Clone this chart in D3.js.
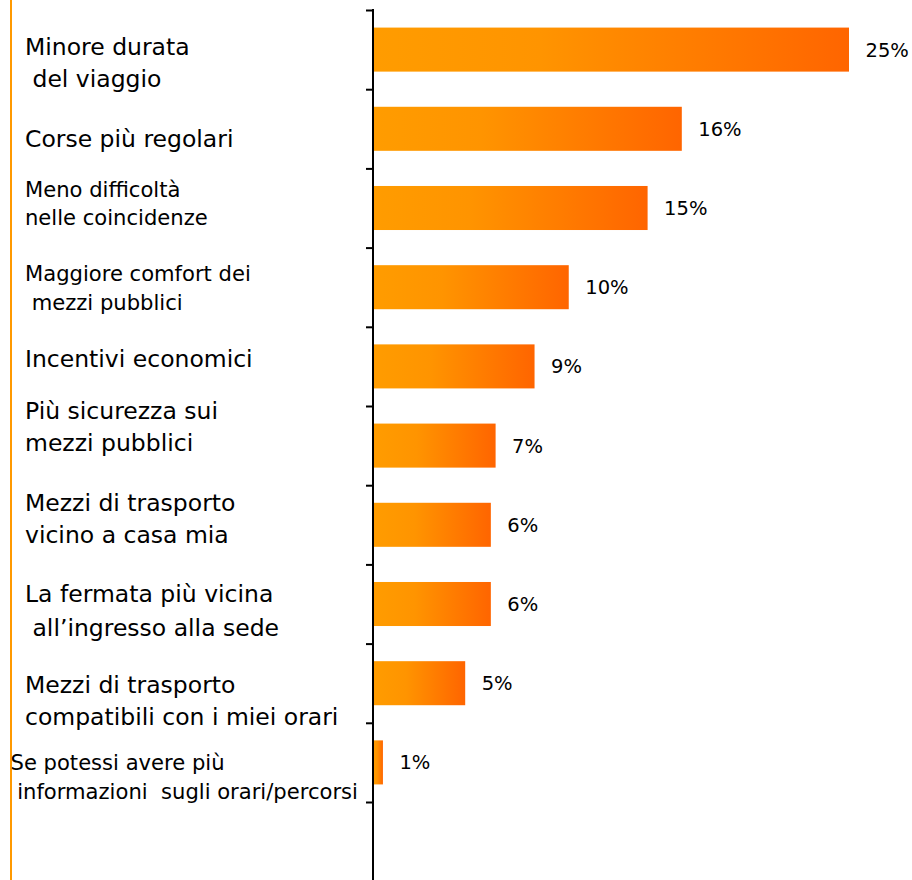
<!DOCTYPE html>
<html>
<head>
<meta charset="utf-8">
<script src="https://cdn.jsdelivr.net/npm/d3@7"></script>
<style>
  html, body { margin: 0; padding: 0; background: #ffffff; }
  svg { display: block; }
  text { font-family: "DejaVu Sans", Verdana, sans-serif; white-space: pre; }
</style>
</head>
<body>
<svg id="chart" width="912" height="880"></svg>
<script>
// ---- data ----
const categories = [
  "Minore durata del viaggio",
  "Corse più regolari",
  "Meno difficoltà nelle coincidenze",
  "Maggiore comfort dei mezzi pubblici",
  "Incentivi economici",
  "Più sicurezza sui mezzi pubblici",
  "Mezzi di trasporto vicino a casa mia",
  "La fermata più vicina all’ingresso alla sede",
  "Mezzi di trasporto compatibili con i miei orari",
  "Se potessi avere più informazioni sugli orari/percorsi"
];
const categoryLines = [
  ["Minore durata", " del viaggio"],
  ["Corse più regolari"],
  ["Meno difficoltà", "nelle coincidenze"],
  ["Maggiore comfort dei", " mezzi pubblici"],
  ["Incentivi economici"],
  ["Più sicurezza sui", "mezzi pubblici"],
  ["Mezzi di trasporto", "vicino a casa mia"],
  ["La fermata più vicina", " all’ingresso alla sede"],
  ["Mezzi di trasporto", "compatibili con i miei orari"],
  ["Se potessi avere più", " informazioni  sugli orari/percorsi"]
];
// bar lengths (percent)
const values = [25, 16.2, 14.4, 10.25, 8.45, 6.4, 6.15, 6.15, 4.8, 0.47];
// value labels as printed
const valueLabels = ["25%", "16%", "15%", "10%", "9%", "7%", "6%", "6%", "5%", "1%"];

// ---- layout (not data) ----
const W = 912, H = 880;
const axisX = 373;
const labelLayout = [ // x, font size, baseline offsets from band centre
  {x: 25,   fs: 23.5, dy: [5.4, 37.7]},
  {x: 25,   fs: 23.5, dy: [17.9]},
  {x: 25,   fs: 21.1, dy: [-11.3, 17]},
  {x: 25,   fs: 21.1, dy: [-6.2, 22.8]},
  {x: 25,   fs: 23.5, dy: [0.3]},
  {x: 25,   fs: 23.5, dy: [-26.3, 5.4]},
  {x: 25,   fs: 23.5, dy: [-13.8, 18.2]},
  {x: 25,   fs: 23.5, dy: [-2, 32]},
  {x: 25,   fs: 23.5, dy: [10.1, 41.8]},
  {x: 10.5, fs: 21.1, dy: [7.6, 36.9]}
];

const svg = d3.select("#chart");
svg.append("rect").attr("width", W).attr("height", H).attr("fill", "#ffffff");

const defs = svg.append("defs");
const grad = defs.append("linearGradient").attr("id", "barGrad")
  .attr("x1", "0%").attr("x2", "100%").attr("y1", "0%").attr("y2", "0%");
grad.append("stop").attr("offset", "0%").attr("stop-color", "#ff9c00");
grad.append("stop").attr("offset", "35%").attr("stop-color", "#ff9400");
grad.append("stop").attr("offset", "100%").attr("stop-color", "#ff6500");

const y = d3.scaleBand().domain(categories).range([10, 802])
  .paddingInner(0.444).paddingOuter(0.222);
const x = d3.scaleLinear().domain([0, 25]).range([axisX + 1, axisX + 1 + 475]);

// left orange rule
svg.append("line").attr("x1", 11).attr("x2", 11).attr("y1", 0).attr("y2", H)
  .attr("stroke", "#ff9900").attr("stroke-width", 2);

// bars
svg.append("g").selectAll("rect").data(values).join("rect")
  .attr("x", x(0))
  .attr("y", (d, i) => y(categories[i]))
  .attr("width", d => x(d) - x(0))
  .attr("height", y.bandwidth())
  .attr("fill", "url(#barGrad)");

// value labels
svg.append("g").selectAll("text").data(values).join("text")
  .attr("x", d => x(d) + 16.5)
  .attr("y", (d, i) => y(categories[i]) + y.bandwidth() / 2 + 7)
  .attr("font-size", 19.5)
  .attr("fill", "#000")
  .text((d, i) => valueLabels[i]);

// axis with ticks at band boundaries
const tickScale = d3.scaleLinear().domain([0, categories.length]).range([10, 802]);
const axis = d3.axisLeft(tickScale).tickValues(d3.range(0, categories.length + 1))
  .tickSize(7).tickSizeOuter(0).tickFormat("");
const gAxis = svg.append("g").attr("transform", `translate(${axisX},0)`).call(axis);
gAxis.select(".domain").remove();
gAxis.selectAll(".tick line").attr("stroke", "#000").attr("stroke-width", 2);
svg.append("line").attr("x1", axisX).attr("x2", axisX).attr("y1", 9).attr("y2", H)
  .attr("stroke", "#000").attr("stroke-width", 2);

// category labels
const lab = svg.append("g");
categoryLines.forEach((lines, i) => {
  const L = labelLayout[i];
  const cy = y(categories[i]) + y.bandwidth() / 2;
  lines.forEach((t, j) => {
    lab.append("text")
      .attr("x", L.x)
      .attr("y", cy + L.dy[j])
      .attr("font-size", L.fs)
      .attr("fill", "#000")
      .attr("xml:space", "preserve")
      .text(t);
  });
});
</script>
</body>
</html>
